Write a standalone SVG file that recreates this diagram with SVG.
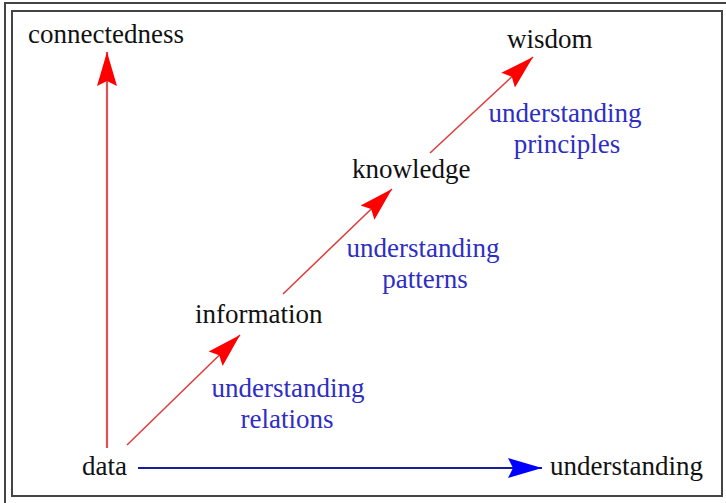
<svg xmlns="http://www.w3.org/2000/svg" width="726" height="503" viewBox="0 0 726 503">
<style>
.lbl{font-family:"Liberation Serif","Times New Roman",serif;font-size:27px;fill:#111}
.blue{font-family:"Liberation Serif","Times New Roman",serif;font-size:27px;fill:#2e2ec4;text-anchor:middle}
.red{stroke:#e03a3a;stroke-width:1.5;fill:none}
.frame{fill:none;stroke:#444;stroke-width:2}
</style>
<defs>
<marker id="ah-red" markerUnits="userSpaceOnUse" markerWidth="36" markerHeight="22" viewBox="0 0 36 22" refX="34" refY="11" orient="auto">
<path d="M34,11 L0,1 L5,11 L0,21 Z" fill="#ff0000"/>
</marker>
<marker id="ah-blue" markerUnits="userSpaceOnUse" markerWidth="36" markerHeight="22" viewBox="0 0 36 22" refX="34" refY="11" orient="auto">
<path d="M34,11 L0,1 L5,11 L0,21 Z" fill="#0000ff"/>
</marker>
</defs>
<rect width="726" height="503" fill="#fff"/>
<rect class="frame" x="5" y="3" width="730" height="520"/>
<rect class="frame" x="12" y="11" width="710" height="485"/>
<g id="connectors">
<line x1="107" y1="448" x2="107" y2="52" stroke="#e05050" stroke-width="2.2" marker-end="url(#ah-red)"/>
<line class="red" x1="127" y1="445" x2="240" y2="335" marker-end="url(#ah-red)"/>
<line class="red" x1="283" y1="294" x2="392" y2="189" marker-end="url(#ah-red)"/>
<line class="red" x1="430" y1="153" x2="533" y2="57" marker-end="url(#ah-red)"/>
<line x1="138" y1="468" x2="542" y2="468" stroke="#1a1aa0" stroke-width="2" marker-end="url(#ah-blue)"/>
</g>
<g id="connectedness"><text class="lbl" x="28" y="43">connectedness</text></g>
<g id="wisdom"><text class="lbl" x="507" y="48">wisdom</text></g>
<g id="knowledge"><text class="lbl" x="352" y="178">knowledge</text></g>
<g id="information"><text class="lbl" x="195" y="323">information</text></g>
<g id="data"><text class="lbl" x="82" y="475">data</text></g>
<g id="understanding"><text class="lbl" x="550" y="475">understanding</text></g>
<g id="label-principles"><text class="blue" x="565" y="122">understanding</text><text class="blue" x="567" y="153">principles</text></g>
<g id="label-patterns"><text class="blue" x="423" y="257">understanding</text><text class="blue" x="425" y="288">patterns</text></g>
<g id="label-relations"><text class="blue" x="288" y="397">understanding</text><text class="blue" x="287" y="428">relations</text></g>
</svg>
